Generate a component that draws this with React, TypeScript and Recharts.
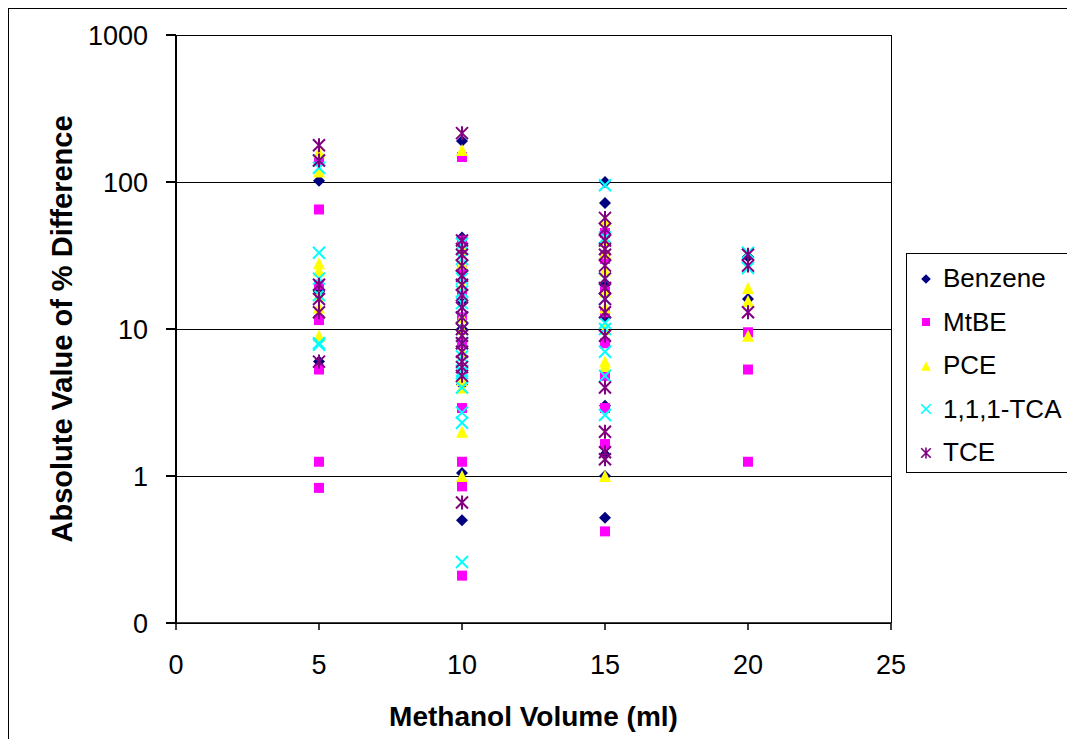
import React from "react";
import {
  CartesianGrid,
  ReferenceLine,
  Scatter,
  ScatterChart,
  XAxis,
  YAxis,
} from "recharts";

// methanol volumes (ml) and the readings at each one, per compound
const volumes = [5, 10, 15, 20];

const benzene = [
  [102, 18, 6.0],
  [190, 42, 25, 15, 10, 6.5, 4.2, 1.05, 0.5],
  [100, 72, 30, 20, 12, 3.0, 1.4, 1.0, 0.52],
  [31, 16],
];
const mtbe = [
  [140, 65, 20, 11.5, 5.3, 1.25, 0.83],
  [148, 40, 25, 18, 12, 8, 5, 2.9, 1.25, 0.85, 0.21],
  [45, 30, 18, 13, 8, 4.8, 2.9, 1.65, 0.42],
  [9.5, 5.3, 1.25],
];
const pce = [
  [160, 118, 28, 25, 17, 14, 9],
  [165, 35, 28, 20, 12, 10, 7, 4.5, 4.0, 2.0, 1.0],
  [55, 40, 33, 25, 18, 14, 10, 6.0, 5.6, 1.0],
  [19, 15.5, 9],
];
const tca = [
  [140, 125, 33, 22, 17, 8, 7.8],
  [38, 30, 27, 22, 18, 15, 12, 10, 8, 6.5, 5.2, 5.0, 4.0, 2.7, 2.3, 0.26],
  [95, 42, 22, 16, 11, 10, 7, 4.8, 2.6],
  [33, 26],
];
const tce = [
  [178, 140, 20, 16, 13, 6],
  [215, 40, 35, 32, 27, 23, 20, 17, 14, 12, 10, 9, 8, 7, 6, 5.5, 4.8, 0.66],
  [57, 48, 40, 35, 32, 27, 22, 19, 16, 13, 9, 4.0, 2.0, 1.45, 1.3],
  [32, 27, 13],
];

const xTicks = [0, 5, 10, 15, 20, 25];
const yTicks = [0.1, 1, 10, 100, 1000];

const toPoints = (vals: number[][]) =>
  vals.flatMap((ys, i) => ys.map((y) => ({ x: volumes[i], y })));

const FONT = "'Liberation Sans', Arial, sans-serif";

const markerPath = (kind: string, cx: number, cy: number) => {
  const h = 6;
  switch (kind) {
    case "diamond":
      return `M${cx},${cy - h}L${cx + h},${cy}L${cx},${cy + h}L${cx - h},${cy}Z`;
    case "square":
      return `M${cx - 5},${cy - 5}h10v10h-10Z`;
    case "triangle":
      return `M${cx},${cy - h}L${cx + h},${cy + h}L${cx - h},${cy + h}Z`;
    case "x":
      return `M${cx - h},${cy - h}L${cx + h},${cy + h}M${cx + h},${cy - h}L${cx - h},${cy + h}`;
    default:
      return `M${cx - h},${cy - h}L${cx + h},${cy + h}M${cx + h},${cy - h}L${cx - h},${cy + h}M${cx},${cy - h - 1}L${cx},${cy + h + 1}`;
  }
};

const Marker = ({ kind, color, cx, cy }: any) => {
  const stroked = kind === "x" || kind === "star";
  return (
    <path
      d={markerPath(kind, cx, cy)}
      fill={stroked ? "none" : color}
      stroke={stroked ? color : "none"}
      strokeWidth={stroked ? 2 : 0}
    />
  );
};

const seriesList = [
  { name: "Benzene", vals: benzene, color: "#000080", kind: "diamond" },
  { name: "MtBE", vals: mtbe, color: "#FF00FF", kind: "square" },
  { name: "PCE", vals: pce, color: "#FFFF00", kind: "triangle" },
  { name: "1,1,1-TCA", vals: tca, color: "#00FFFF", kind: "x" },
  { name: "TCE", vals: tce, color: "#800080", kind: "star" },
];

const LegendBox = () => (
  <div
    style={{
      position: "absolute",
      left: 897,
      top: 244,
      border: "1px solid #000",
      borderRight: "none",
      width: 170,
      height: 220,
      boxSizing: "border-box",
      paddingTop: 3,
      fontFamily: FONT,
      fontSize: 26,
      background: "#fff",
    }}
  >
    {seriesList.map((s) => (
      <div key={s.name} style={{ display: "flex", alignItems: "center", height: 43.5 }}>
        <svg width={36} height={20} style={{ flexShrink: 0 }}>
          <g transform="translate(19,10) scale(0.8) translate(-19,-10)">
            <Marker kind={s.kind} color={s.color} cx={19} cy={10} />
          </g>
        </svg>
        <span style={{ color: "#000", whiteSpace: "nowrap" }}>{s.name}</span>
      </div>
    ))}
  </div>
);

export default function App() {
  return (
    <div
      style={{
        width: 1067,
        height: 731,
        borderLeft: "1px solid #000",
        borderTop: "1px solid #000",
        boxSizing: "border-box",
        position: "relative",
        background: "#fff",
        overflow: "hidden",
      }}
    >
      <ScatterChart
        width={1066}
        height={730}
        margin={{ top: 26, right: 184, bottom: 13, left: 19 }}
      >
        <CartesianGrid
          vertical={false}
          stroke="#000"
          strokeOpacity={1}
          strokeWidth={1}
          shapeRendering="crispEdges"
        />
        <XAxis
          type="number"
          dataKey="x"
          domain={[0, 25]}
          ticks={xTicks}
          interval={0}
          height={103}
          stroke="#000"
          strokeWidth={1.5}
          tickSize={7}
          tickMargin={25}
          tick={{ fill: "#000", fontSize: 27, fontFamily: FONT }}
          label={{
            value: "Methanol Volume (ml)",
            position: "insideBottom",
            offset: 0,
            style: { fill: "#000", fontSize: 28, fontWeight: "bold", fontFamily: FONT },
          }}
        />
        <YAxis
          type="number"
          dataKey="y"
          scale="log"
          domain={[0.1, 1000]}
          ticks={yTicks}
          interval={0}
          allowDataOverflow
          width={148}
          stroke="#000"
          strokeWidth={2}
          tickSize={10}
          tickMargin={18}
          tickFormatter={(v: number) => (v < 1 ? "0" : String(v))}
          tick={{ fill: "#000", fontSize: 27, fontFamily: FONT }}
          label={{
            value: "Absolute Value of % Difference",
            angle: -90,
            position: "insideLeft",
            offset: 34,
            style: {
              fill: "#000",
              fontSize: 29,
              fontWeight: "bold",
              fontFamily: FONT,
              textAnchor: "middle",
            },
          }}
        />
        <ReferenceLine
          x={25}
          stroke="#000"
          strokeWidth={1}
          ifOverflow="visible"
          shapeRendering="crispEdges"
        />
        {seriesList.map((s) => (
          <Scatter
            key={s.name}
            name={s.name}
            data={toPoints(s.vals)}
            isAnimationActive={false}
            fill={s.color}
            shape={(p: any) => <Marker kind={s.kind} color={s.color} cx={p.cx} cy={p.cy} />}
          />
        ))}
      </ScatterChart>
      <LegendBox />
    </div>
  );
}
